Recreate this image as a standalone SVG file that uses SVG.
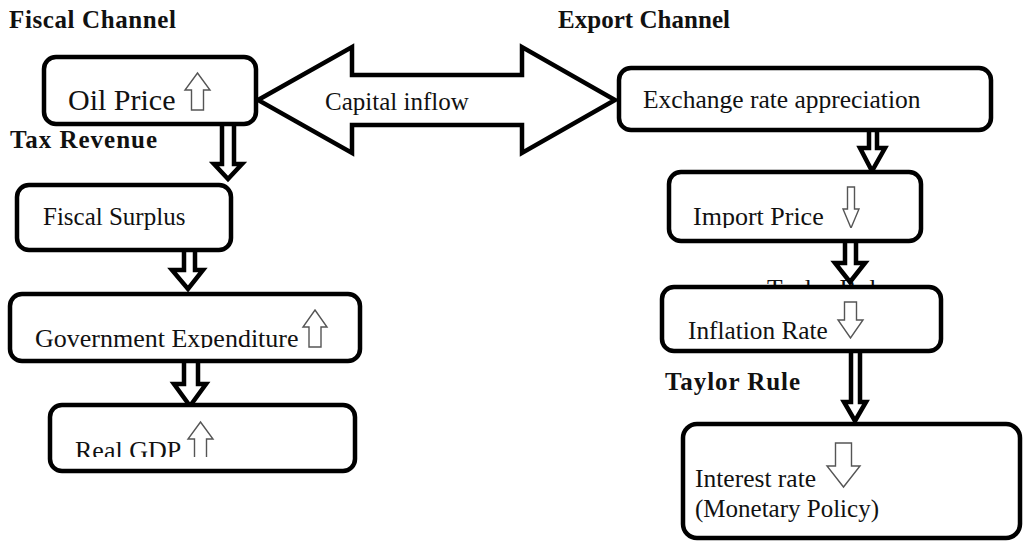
<svg xmlns="http://www.w3.org/2000/svg" width="1023" height="544" viewBox="0 0 1023 544">
<style>
.box{fill:#fff;stroke:#000;stroke-width:4.5}
.blk{fill:#fff;stroke:#000;stroke-width:4.5;stroke-linejoin:miter}
.ico{fill:#fff;stroke:#555;stroke-width:1.4}
.ttl{font-weight:bold;fill:#111}
.lbl{fill:#111}
</style>
<defs>
<clipPath id="cGov"><rect x="10" y="294" width="350" height="54"/></clipPath>
<clipPath id="cGdp"><rect x="50" y="405" width="305" height="52"/></clipPath>
<clipPath id="cImp"><rect x="669" y="172" width="252" height="56"/></clipPath>
<clipPath id="cInf"><rect x="662" y="287" width="279" height="52"/></clipPath>
</defs>
<rect width="1023" height="544" fill="#fff"/>
<text class="ttl" font-family="Liberation Serif" font-size="25" x="9" y="28" textLength="167" lengthAdjust="spacing">Fiscal Channel</text>
<text class="ttl" font-family="Liberation Serif" font-size="25" x="558" y="28" textLength="172" lengthAdjust="spacing">Export Channel</text>
<text class="ttl" font-family="Liberation Serif" font-size="25" x="10" y="148" textLength="147" lengthAdjust="spacing">Tax Revenue</text>
<text class="ttl" font-family="Liberation Serif" font-size="25" x="665" y="390" textLength="135" lengthAdjust="spacing">Taylor Rule</text>
<text class="lbl" font-family="Liberation Serif" font-size="25.5" x="767" y="297">Taylor Rule</text>
<g id="connectors">
<path class="blk" d="M258,100 L352,47 L352,75 L522,75 L522,47 L615,100 L522,153 L522,125 L352,125 L352,153 Z"/>
<text class="lbl" font-family="Liberation Serif" font-size="25" x="325" y="110">Capital inflow</text>
<path class="blk" d="M222,126 L222,164 L214,164 L228,179 L242,164 L234,164 L234,126"/>
<path class="blk" d="M184,252 L184,270 L172,270 L188,289 L203,270 L195,270 L195,252"/>
<path class="blk" d="M184,363 L184,384 L174,384 L190,406 L206,384 L198,384 L198,363"/>
<path class="blk" d="M869,132 L869,148 L860,148 L872,171 L885,148 L877,148 L877,132"/>
<path class="blk" d="M845,243 L845,263 L835,263 L850,282 L865,263 L856,263 L856,243"/>
<path class="blk" d="M851,353 L851,402 L844,402 L855,421 L866,402 L860,402 L860,353"/>
</g>
<g id="oil">
<rect class="box" x="44" y="57" width="212" height="67" rx="12"/>
<text class="lbl" font-family="Liberation Serif" font-size="30" x="68" y="110">Oil Price</text>
<polygon class="ico" points="197.5,73 210,90 203.5,90 203.5,110 191.5,110 191.5,90 185,90"/>
</g>
<g id="exchange">
<rect class="box" x="619" y="68" width="372" height="62" rx="12"/>
<text class="lbl" font-family="Liberation Serif" font-size="25.5" x="643" y="108">Exchange rate appreciation</text>
</g>
<g id="import">
<rect class="box" x="669" y="172" width="252" height="69" rx="12"/>
<g clip-path="url(#cImp)">
<text class="lbl" font-family="Liberation Serif" font-size="26" x="693" y="225">Import Price</text>
<polygon class="ico" points="847.5,187 854.5,187 854.5,209 859,209 851,228 843,209 847.5,209"/>
</g>
</g>
<g id="inflation">
<rect class="box" x="662" y="287" width="279" height="64" rx="12"/>
<g clip-path="url(#cInf)">
<text class="lbl" font-family="Liberation Serif" font-size="25.3" x="688" y="339">Inflation Rate</text>
<polygon class="ico" points="844.5,302 856.5,302 856.5,320 863,320 850.5,338 838,320 844.5,320"/>
</g>
</g>
<g id="interest">
<rect class="box" x="683" y="424" width="337" height="114" rx="14"/>
<text class="lbl" font-family="Liberation Serif" font-size="25.5" x="695" y="487">Interest rate</text>
<text class="lbl" font-family="Liberation Serif" font-size="25" x="695" y="517">(Monetary Policy)</text>
<polygon class="ico" points="835.5,443 851.5,443 851.5,466 860,466 843.5,487 827,466 835.5,466"/>
</g>
<g id="fiscal">
<rect class="box" x="17" y="185" width="214" height="65" rx="12"/>
<text class="lbl" font-family="Liberation Serif" font-size="25" x="43" y="225">Fiscal Surplus</text>
</g>
<g id="government">
<rect class="box" x="10" y="294" width="350" height="67" rx="12"/>
<g clip-path="url(#cGov)">
<text class="lbl" font-family="Liberation Serif" font-size="26" x="35" y="347">Government Expenditure</text>
<polygon class="ico" points="315,310 327,327 321,327 321,347 309,347 309,327 303,327"/>
</g>
</g>
<g id="gdp">
<rect class="box" x="50" y="405" width="305" height="66" rx="12"/>
<g clip-path="url(#cGdp)">
<text class="lbl" font-family="Liberation Serif" font-size="26" x="75" y="459">Real GDP</text>
<polygon class="ico" points="200.5,422 213,439 206.5,439 206.5,460 194.5,460 194.5,439 188,439"/>
</g>
</g>
</svg>
